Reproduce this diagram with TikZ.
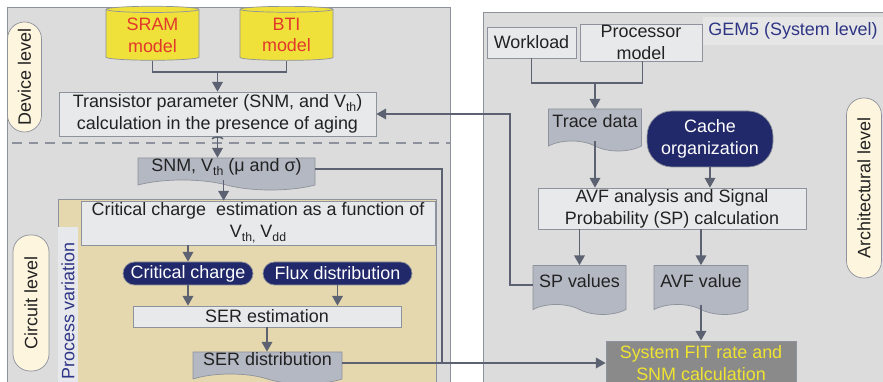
\documentclass[tikz,border=0pt]{standalone}
\usepackage{fontspec}
\setmainfont{Liberation Sans}
\usetikzlibrary{shapes.geometric,shapes.symbols,arrows.meta}
\definecolor{panelgray}{HTML}{DCDCDC}
\definecolor{framegray}{HTML}{8D929C}
\definecolor{linkgray}{HTML}{5C6272}
\definecolor{boxfill}{HTML}{E8E9EB}
\definecolor{docfill}{HTML}{B4B8C2}
\definecolor{darknavy}{HTML}{22296B}
\definecolor{pvtan}{HTML}{E6D8AE}
\definecolor{cream}{HTML}{FDF5DD}
\definecolor{fitgray}{HTML}{8A8A8A}
\definecolor{fityel}{HTML}{F0E431}
\definecolor{modelyel}{HTML}{EFE03A}
\definecolor{modelred}{HTML}{E2382B}
\definecolor{labelblue}{HTML}{2E3585}
\definecolor{stripgray}{HTML}{E7E8EB}
\definecolor{gemgray}{HTML}{E6E6E6}
\definecolor{inktext}{HTML}{222222}
\newcommand{\lowsub}[1]{\raisebox{-0.4ex}{\scriptsize #1}}
\tikzset{
  procbox/.style={draw=framegray, fill=boxfill, text=inktext, align=center},
  databox/.style={shape=tape, tape bend top=none, tape bend bottom=out and in,
    tape bend height=0.2cm, draw=framegray, fill=docfill, text=inktext, align=center,
    text depth=4.5pt},
  modelcyl/.style={shape=cylinder, shape border rotate=90, aspect=0.12, draw=framegray,
    cylinder uses custom fill, cylinder body fill=modelyel, cylinder end fill=modelyel,
    text=modelred, align=center, minimum width=1.86cm, minimum height=1.08cm},
  navypill/.style={draw=framegray, fill=darknavy, text=white, align=center},
  levelpill/.style={draw=framegray, fill=cream, text=inktext, rotate=90, rounded corners=0.34cm},
  link/.style={draw=linkgray, line width=0.85pt},
  arrow/.style={link, -{Triangle[length=5.5pt,width=6pt]}},
}
\begin{document}
\begin{tikzpicture}[scale=0.2]
\tikzstyle{every node}+=[inner sep=0pt, font=\fontsize{10.2}{12.4}\selectfont]
\useasboundingbox (0,0) rectangle (88.3,-38.2);
% panels
\draw [framegray, fill=panelgray] (0.7,-0.7) rectangle (45.0,-39.5);
\draw [framegray, fill=panelgray] (48.3,-1.2) rectangle (89.5,-39.5);
\draw [framegray, fill=pvtan] (5.8,-19.9) rectangle (43.6,-39.5);
\draw [framegray, line width=1.1pt, dash pattern=on 5.5pt off 4pt] (1.2,-14.3) -- (45.0,-14.3);
\node [fill=stripgray, text=labelblue, rotate=90, minimum width=3.36cm, minimum height=0.4cm] (pv) at (6.8,-31.1) {Process variation};
\node [fill=gemgray, text=labelblue, minimum width=3.6cm, minimum height=0.56cm] (gem) at (79.3,-3.1) {GEM5 (System level)};
% level labels
\node [levelpill, minimum width=2.2cm, minimum height=0.68cm] (devlvl) at (2.45,-7.7) {Device level};
\node [levelpill, minimum width=2.72cm, minimum height=0.72cm] (cirlvl) at (3.1,-30.3) {Circuit level};
\node [levelpill, minimum width=3.6cm, minimum height=0.7cm] (archlvl) at (86.4,-18.8) {Architectural level};
% device and circuit side
\node [modelcyl] (sram) at (15.25,-3.5) {SRAM\\model};
\node [modelcyl] (bti) at (28.65,-3.5) {BTI\\model};
\node [procbox, minimum width=6.34cm, minimum height=0.88cm] (trans) at (21.75,-11.4) {Transistor parameter (SNM, and V\lowsub{th})\\calculation in the presence of aging};
\node [databox, minimum width=3.54cm, minimum height=0.64cm] (snm) at (22.65,-16.9) {SNM, V\lowsub{th} (μ and σ)};
\node [procbox, minimum width=7.08cm, minimum height=0.88cm] (crit) at (25.8,-22.3) {Critical charge~ estimation as a function of\\V\lowsub{th,} V\lowsub{dd}};
\node [navypill, rounded corners=0.23cm, minimum width=2.6cm, minimum height=0.46cm] (cc) at (18.8,-27.35) {Critical charge};
\node [navypill, rounded corners=0.23cm, minimum width=2.98cm, minimum height=0.46cm] (flux) at (33.75,-27.35) {Flux distribution};
\node [procbox, minimum width=5.36cm, minimum height=0.42cm] (ser) at (26.7,-31.65) {SER estimation};
\node [databox, minimum width=2.98cm, minimum height=0.64cm] (serd) at (26.75,-36.3) {SER distribution};
% architectural side
\node [procbox, minimum width=1.78cm, minimum height=0.62cm] (workload) at (53.15,-4.25) {Workload};
\node [procbox, minimum width=2.44cm, minimum height=0.74cm] (proc) at (64.1,-4.25) {Processor\\model};
\node [databox, minimum width=1.86cm, minimum height=0.84cm] (trace) at (59.5,-12.5) {Trace data};
\node [navypill, rounded corners=0.5cm, minimum width=2.52cm, minimum height=1.12cm] (cache) at (71.0,-13.9) {Cache\\organization};
\node [procbox, minimum width=5.36cm, minimum height=0.82cm] (avf) at (67.2,-20.85) {AVF analysis and Signal\\Probability (SP) calculation};
\node [databox, minimum width=1.86cm, minimum height=0.98cm] (spv) at (57.95,-28.5) {SP values};
\node [databox, minimum width=1.88cm, minimum height=0.98cm] (avfv) at (70.1,-28.5) {AVF value};
\node [draw=framegray, fill=fitgray, text=fityel, align=center, minimum width=3.8cm, minimum height=0.88cm] (fit) at (70.1,-36.3) {System FIT rate and\\SNM calculation};
% connectors
\coordinate (mjoin) at (21.75,-7.2);
\coordinate (pjoin) at (59.5,-8.3);
\coordinate (bus) at (44.2,-36.3);
\coordinate (fb) at (51.0,-11.4);
\draw [link] (sram.south) |- (mjoin) -| (bti.south);
\draw [arrow] (mjoin) -- (trans.north);
\draw [link, {Arc Barb[length=1.5pt,width=7pt]}-{Triangle[length=5.5pt,width=6pt]}] (trans.south) -- (trans.south |- snm.north);
\draw [arrow] ([xshift=-0.29cm]snm.south) -- ([xshift=-0.29cm]snm.south |- crit.north);
\draw [link] (snm.east) -| (bus);
\draw [arrow] (crit.south -| cc.north) -- (cc.north);
\draw [arrow] (cc.south) -- (cc.south |- ser.north);
\draw [arrow] (flux.south) -- (flux.south |- ser.north);
\draw [arrow] (ser.south) -- (ser.south |- serd.north);
\draw [arrow] (serd.east) -- (fit.west);
\draw [link] (workload.south) |- (pjoin) -| ([xshift=0.16cm]proc.south);
\draw [arrow] (pjoin) -- (trace.north);
\draw [arrow] (trace.south) -- (trace.south |- avf.north);
\draw [arrow] (cache.south) -- (cache.south |- avf.north);
\draw [arrow] (spv.north |- avf.south) -- (spv.north);
\draw [arrow] (avfv.north |- avf.south) -- (avfv.north);
\draw [arrow] (avfv.south) -- (fit.north);
\draw [arrow] (spv.west) -| (fb) -- (trans.east);
\end{tikzpicture}
\end{document}
